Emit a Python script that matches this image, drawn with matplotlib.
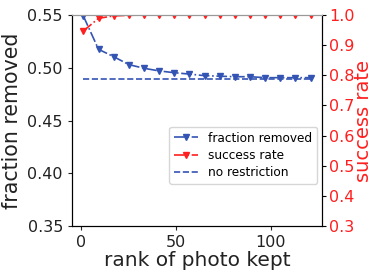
import matplotlib
matplotlib.use('Agg')
import matplotlib.pyplot as plt

rank = [1, 9, 17, 25, 33, 41, 49, 57, 65, 73, 81, 89, 97, 105, 113, 121]
fraction_removed = [0.549, 0.5175, 0.5105, 0.503, 0.4995, 0.497, 0.4953, 0.494,
                    0.4925, 0.492, 0.4915, 0.4915, 0.4906, 0.4906, 0.4906, 0.4906]
success_rate = [0.947, 0.989, 0.997, 0.999, 1.0, 1.0, 1.0, 1.0,
                1.0, 1.0, 1.0, 1.0, 1.0, 1.0, 1.0, 1.0]
no_restriction = 0.4896

blue = '#3454b4'
red = '#ff1f1f'

fig = plt.figure(figsize=(3.74, 2.8), dpi=100)
ax = fig.add_axes([72/374, 54/280, 250/374, 211/280])
ax2 = ax.twinx()

l1, = ax.plot(rank, fraction_removed, '-.', color=blue, marker='v', markersize=5,
              linewidth=1.2, label='fraction removed')
l3, = ax.plot([rank[0], rank[-1]], [no_restriction, no_restriction], '--',
              color=blue, linewidth=1.2, label='no restriction')
l2, = ax2.plot(rank, success_rate, '-.', color=red, marker='v', markersize=5,
               linewidth=1.2, label='success rate')

ax.set_ylim(0.35, 0.55)
ax.set_yticks([0.35, 0.40, 0.45, 0.50, 0.55])
ax2.set_ylim(0.3, 1.0)
ax2.set_yticks([0.3, 0.4, 0.5, 0.6, 0.7, 0.8, 0.9, 1.0])
ax.set_xlim(-5, 127)
ax.set_xticks([0, 50, 100])

ax.tick_params(labelsize=11.5, colors='#222222', length=3)
ax2.tick_params(labelsize=11.5, labelcolor=red, length=3, pad=2)
ax.set_xlabel('rank of photo kept', fontsize=14.5, color='#222222', labelpad=1)
ax.set_ylabel('fraction removed', fontsize=14.8, color='#222222', labelpad=4)
ax2.set_ylabel('success rate', fontsize=14, color=red, labelpad=0)
for a in (ax, ax2):
    a.spines['top'].set_color('#999999')

ax.legend([l1, l2, l3], ['fraction removed', 'success rate', 'no restriction'],
          loc='center right', bbox_to_anchor=(0.98, 0.335), borderaxespad=0,
          fontsize=8.7, handlelength=2, labelspacing=0.35)

fig.savefig('out.png', dpi=100)
